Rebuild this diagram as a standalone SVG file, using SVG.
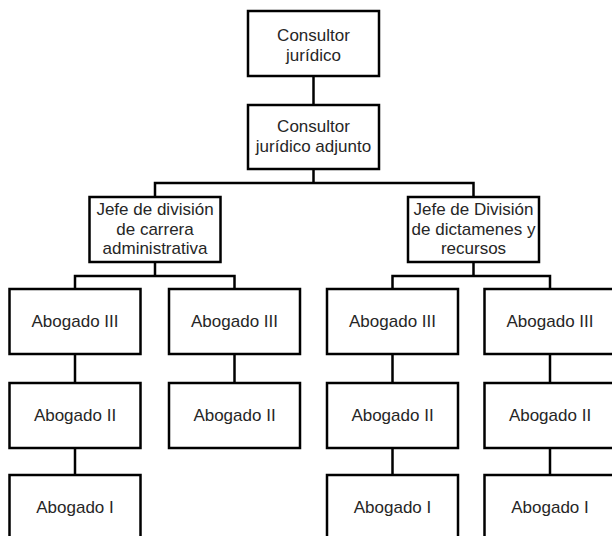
<svg xmlns="http://www.w3.org/2000/svg" width="612" height="536" viewBox="0 0 612 536">
<style>
.box{fill:#fff;stroke:#000;stroke-width:2.5}
.lbl{font-family:"Liberation Sans",Arial,sans-serif;font-size:17px;fill:#262626;text-anchor:middle}
.con{fill:none;stroke:#000;stroke-width:2.5}
</style>
<rect width="612" height="536" fill="#fff"/>
<g id="connectors">
<path class="con" d="M313.5 76V105"/>
<path class="con" d="M313.5 169V183M155 197V183H473.5V197"/>
<path class="con" d="M155 262V276M75 289V276H234.5V289"/>
<path class="con" d="M473.5 262V276M392.5 289V276H550V289"/>
<path class="con" d="M75 354V383M75 448V475"/>
<path class="con" d="M234.5 354V383"/>
<path class="con" d="M392.5 354V383M392.5 448V475"/>
<path class="con" d="M550 354V383M550 448V475"/>
</g>
<g id="n-consultor">
<rect class="box" x="248" y="11" width="131" height="65"/>
<text class="lbl" x="313.5" y="41">Consultor</text>
<text class="lbl" x="313.5" y="61">jurídico</text>
</g>
<g id="n-adjunto">
<rect class="box" x="248" y="105" width="131" height="64"/>
<text class="lbl" x="313.5" y="132">Consultor</text>
<text class="lbl" x="313.5" y="152">jurídico adjunto</text>
</g>
<g id="n-jefe-carrera">
<rect class="box" x="89.5" y="197" width="131" height="65"/>
<text class="lbl" x="155" y="215">Jefe de división</text>
<text class="lbl" x="155" y="234.5">de carrera</text>
<text class="lbl" x="155" y="254">administrativa</text>
</g>
<g id="n-jefe-dictamenes">
<rect class="box" x="408" y="197" width="131" height="65"/>
<text class="lbl" x="473.5" y="215">Jefe de División</text>
<text class="lbl" x="473.5" y="234.5">de dictamenes y</text>
<text class="lbl" x="473.5" y="254">recursos</text>
</g>
<g id="n-a3">
<rect class="box" x="9.5" y="289" width="131" height="65"/>
<text class="lbl" x="75" y="327">Abogado III</text>
</g>
<g id="n-a2">
<rect class="box" x="9.5" y="383" width="131" height="65"/>
<text class="lbl" x="75" y="421">Abogado II</text>
</g>
<g id="n-a1">
<rect class="box" x="9.5" y="475" width="131" height="65"/>
<text class="lbl" x="75" y="513">Abogado I</text>
</g>
<g id="n-b3">
<rect class="box" x="169" y="289" width="131" height="65"/>
<text class="lbl" x="234.5" y="327">Abogado III</text>
</g>
<g id="n-b2">
<rect class="box" x="169" y="383" width="131" height="65"/>
<text class="lbl" x="234.5" y="421">Abogado II</text>
</g>
<g id="n-c3">
<rect class="box" x="327" y="289" width="131" height="65"/>
<text class="lbl" x="392.5" y="327">Abogado III</text>
</g>
<g id="n-c2">
<rect class="box" x="327" y="383" width="131" height="65"/>
<text class="lbl" x="392.5" y="421">Abogado II</text>
</g>
<g id="n-c1">
<rect class="box" x="327" y="475" width="131" height="65"/>
<text class="lbl" x="392.5" y="513">Abogado I</text>
</g>
<g id="n-d3">
<rect class="box" x="484.5" y="289" width="131" height="65"/>
<text class="lbl" x="550" y="327">Abogado III</text>
</g>
<g id="n-d2">
<rect class="box" x="484.5" y="383" width="131" height="65"/>
<text class="lbl" x="550" y="421">Abogado II</text>
</g>
<g id="n-d1">
<rect class="box" x="484.5" y="475" width="131" height="65"/>
<text class="lbl" x="550" y="513">Abogado I</text>
</g>
</svg>
